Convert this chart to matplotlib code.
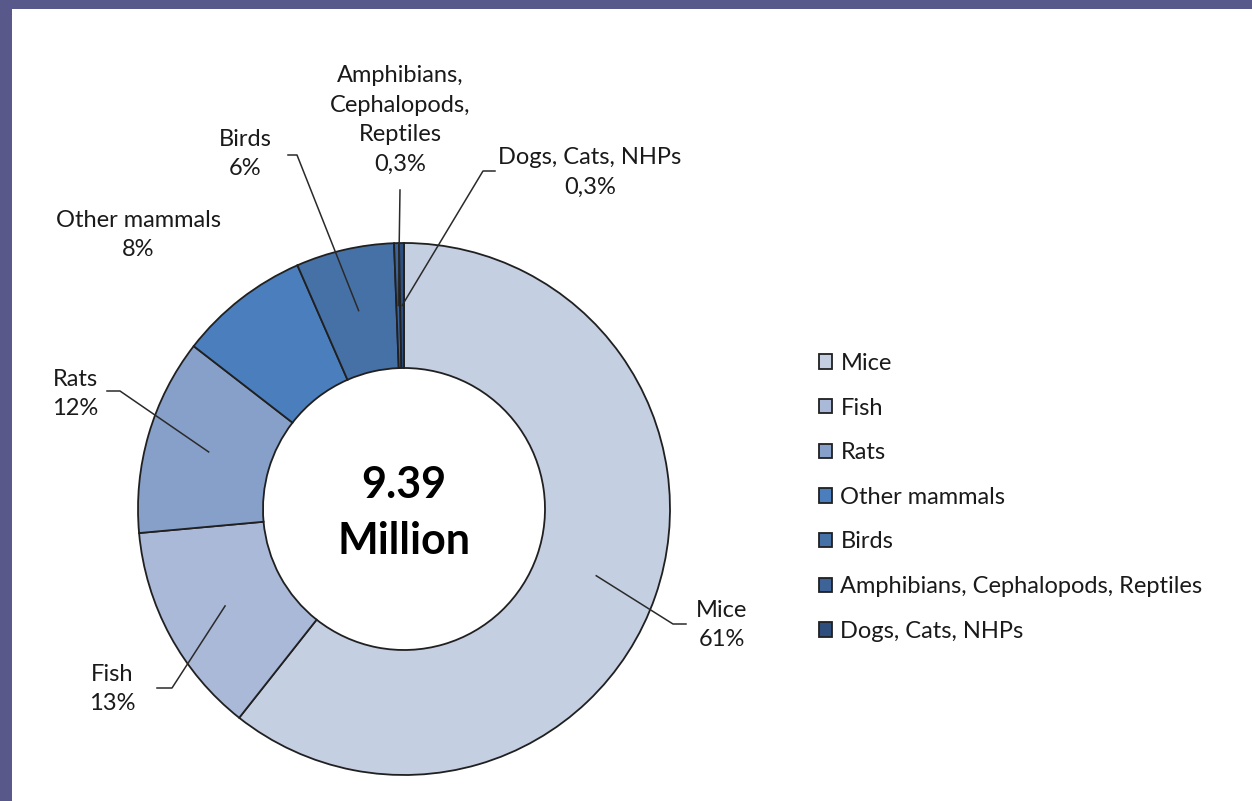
import matplotlib
matplotlib.use('Agg')
import numpy as np
import matplotlib.pyplot as plt
from matplotlib.patches import Rectangle

plt.rcParams['font.family'] = ['Lato', 'DejaVu Sans']

species = ['Mice', 'Fish', 'Rats', 'Other mammals', 'Birds',
           'Amphibians, Cephalopods, Reptiles', 'Dogs, Cats, NHPs']
share = [61, 13, 12, 8, 6, 0.3, 0.3]
slice_names = ['Mice', 'Fish', 'Rats', 'Other mammals', 'Birds',
               'Amphibians,\nCephalopods,\nReptiles', 'Dogs, Cats, NHPs']
colors = ['#c5cfe2', '#aab9d8', '#87a0ca', '#4b7ebd', '#4671a7',
          '#3d6398', '#2e4f7e']
total_label = '9.39\nMillion'

# canvas works in pixels, y measured from the top of the picture
W, H = 1252, 801
def px(x, y):
    return x, H - y

fig = plt.figure(figsize=(W / 100, H / 100), dpi=100)
fig.patch.set_facecolor('#58588a')
ax = fig.add_axes([0, 0, 1, 1])
ax.add_patch(Rectangle(px(12, 801), W, 801 - 9, facecolor='white',
                       edgecolor='none', zorder=0))

cx, cy = px(404, 509)
R, ring = 266, 125
wedges, _ = ax.pie(share, colors=colors, startangle=90, counterclock=False,
                   radius=R, center=(cx, cy), frame=True,
                   wedgeprops=dict(width=ring, edgecolor='#202020', linewidth=1.3))
ax.set_xlim(0, W)
ax.set_ylim(0, H)
ax.set_aspect('equal')
ax.axis('off')

ax.text(cx, cy - 4, total_label, ha='center', va='center', fontsize=31,
        fontweight='bold', linespacing=1.5, color='black')

# label centre, elbow and line end for each slice (None: no leader)
label_pos = [(722, 625), (112, 689), (75, 394), (138, 235), (245, 154),
             (400, 120), (590, 172)]
leaders = [[(673, 624), (686, 624)], [(172, 688), (157, 688)],
           [(120, 391), (107, 391)], None, [(297, 155), (288, 155)],
           [(400, 190)], [(483, 171), (495, 171)]]

r_mid = R - ring / 2
for w, name, v, pos, lead in zip(wedges, slice_names, share, label_pos, leaders):
    pct = f'{v:g}%'.replace('.', ',')
    lx, ly = px(*pos)
    ax.text(lx, ly, f'{name}\n{pct}', ha='center', va='center', fontsize=17,
            linespacing=1.52, color='#1a1a1a')
    if lead is None:
        continue
    ang = np.deg2rad((w.theta1 + w.theta2) / 2)
    xs = [cx + r_mid * np.cos(ang)] + [px(*p)[0] for p in lead]
    ys = [cy + r_mid * np.sin(ang)] + [px(*p)[1] for p in lead]
    ax.plot(xs, ys, color='#2a2a2a', lw=1.1, zorder=5)

leg = ax.legend(wedges, species, loc='upper left',
                bbox_to_anchor=(819 / W, 1 - 353 / H), frameon=False,
                fontsize=17, handlelength=0.56, handleheight=0.56,
                handletextpad=0.35, labelspacing=1.0, borderpad=0,
                borderaxespad=0)
for t in leg.get_texts():
    t.set_color('#1a1a1a')

fig.savefig('out.png', dpi=100, facecolor=fig.get_facecolor())
